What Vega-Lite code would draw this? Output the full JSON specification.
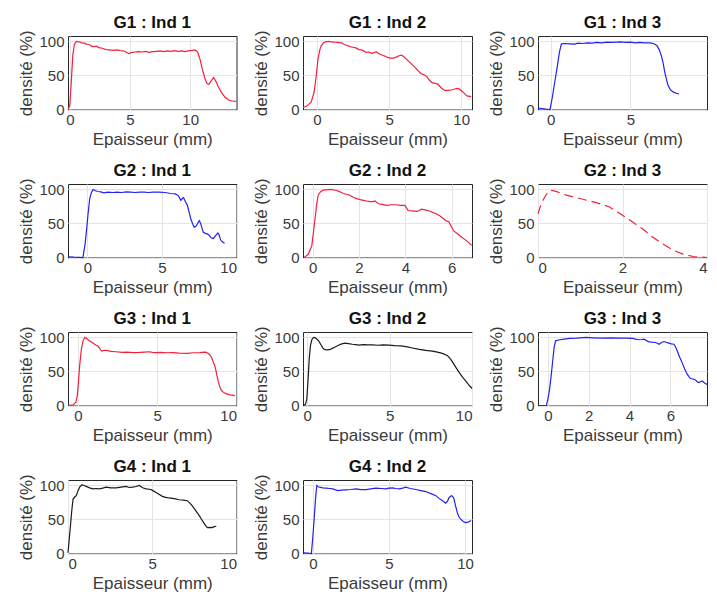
{
  "$schema": "https://vega.github.io/schema/vega-lite/v6.json",
  "background": "white",
  "padding": {"left": 17, "top": 13, "right": 5, "bottom": 5},
  "columns": 3,
  "spacing": {"row": 74, "column": 66},
  "bounds": "flush",
  "config": {
    "font": "Liberation Sans",
    "view": {"stroke": "#262626", "strokeWidth": 1},
    "axis": {
      "labelFont": "Liberation Sans",
      "labelFontSize": 15,
      "labelColor": "#3a3a3a",
      "titleFont": "Liberation Sans",
      "titleFontSize": 17,
      "titleFontWeight": "normal",
      "titleColor": "#3a3a3a",
      "grid": true,
      "gridColor": "#e4e4e4",
      "domain": false,
      "ticks": false,
      "labelPadding": 4,
      "titlePadding": 3
    },
    "axisX": {"labelPadding": 3, "titlePadding": 4},
    "title": {"font": "Liberation Sans", "fontSize": 17, "fontWeight": "bold", "color": "#111111", "offset": -2},
    "line": {"strokeWidth": 1.2, "clip": true}
  },
  "datasets": {
    "g1i1": [
      {"ep": -0.15, "dens": 0}, {"ep": 0.0, "dens": 6}, {"ep": 0.12, "dens": 40}, {"ep": 0.25, "dens": 80}, {"ep": 0.38, "dens": 96},
      {"ep": 0.55, "dens": 100}, {"ep": 0.75, "dens": 99.5}, {"ep": 1.0, "dens": 98}, {"ep": 1.2, "dens": 97.5}, {"ep": 1.4, "dens": 96},
      {"ep": 1.6, "dens": 95.5}, {"ep": 1.8, "dens": 93}, {"ep": 2.0, "dens": 92.5}, {"ep": 2.2, "dens": 93}, {"ep": 2.4, "dens": 91},
      {"ep": 2.7, "dens": 90}, {"ep": 3.0, "dens": 88}, {"ep": 3.3, "dens": 87.5}, {"ep": 3.6, "dens": 87}, {"ep": 3.9, "dens": 87.5},
      {"ep": 4.2, "dens": 86.5}, {"ep": 4.5, "dens": 86}, {"ep": 4.7, "dens": 84}, {"ep": 4.9, "dens": 82}, {"ep": 5.1, "dens": 83.5},
      {"ep": 5.4, "dens": 84.5}, {"ep": 5.7, "dens": 85}, {"ep": 6.0, "dens": 84.5}, {"ep": 6.3, "dens": 85.5}, {"ep": 6.6, "dens": 84},
      {"ep": 6.9, "dens": 85}, {"ep": 7.2, "dens": 85.5}, {"ep": 7.5, "dens": 86}, {"ep": 7.8, "dens": 85}, {"ep": 8.1, "dens": 86},
      {"ep": 8.4, "dens": 85.5}, {"ep": 8.7, "dens": 86.5}, {"ep": 9.0, "dens": 85.5}, {"ep": 9.3, "dens": 86}, {"ep": 9.6, "dens": 85},
      {"ep": 9.9, "dens": 86.5}, {"ep": 10.2, "dens": 87}, {"ep": 10.4, "dens": 87.5}, {"ep": 10.6, "dens": 85}, {"ep": 10.8, "dens": 75},
      {"ep": 11.0, "dens": 60}, {"ep": 11.2, "dens": 47}, {"ep": 11.4, "dens": 38}, {"ep": 11.55, "dens": 37}, {"ep": 11.75, "dens": 42},
      {"ep": 11.95, "dens": 47}, {"ep": 12.15, "dens": 41}, {"ep": 12.35, "dens": 33}, {"ep": 12.6, "dens": 25}, {"ep": 12.9, "dens": 18},
      {"ep": 13.2, "dens": 14}, {"ep": 13.5, "dens": 12.5}, {"ep": 13.8, "dens": 12}
    ],
    "g1i2": [
      {"ep": -0.97, "dens": 3}, {"ep": -0.7, "dens": 5}, {"ep": -0.4, "dens": 11}, {"ep": -0.2, "dens": 25}, {"ep": -0.05, "dens": 50},
      {"ep": 0.07, "dens": 74}, {"ep": 0.2, "dens": 88}, {"ep": 0.3, "dens": 94}, {"ep": 0.45, "dens": 98}, {"ep": 0.6, "dens": 99.5},
      {"ep": 0.8, "dens": 100}, {"ep": 1.0, "dens": 99.5}, {"ep": 1.2, "dens": 99}, {"ep": 1.45, "dens": 98.5}, {"ep": 1.7, "dens": 98},
      {"ep": 1.9, "dens": 95.5}, {"ep": 2.1, "dens": 94}, {"ep": 2.3, "dens": 92.5}, {"ep": 2.5, "dens": 91.5}, {"ep": 2.7, "dens": 90.5},
      {"ep": 2.9, "dens": 88}, {"ep": 3.1, "dens": 87.5}, {"ep": 3.4, "dens": 84}, {"ep": 3.6, "dens": 84.5}, {"ep": 3.8, "dens": 82.5},
      {"ep": 3.95, "dens": 83.5}, {"ep": 4.1, "dens": 85}, {"ep": 4.3, "dens": 82}, {"ep": 4.5, "dens": 80}, {"ep": 4.7, "dens": 78.5},
      {"ep": 4.9, "dens": 76.5}, {"ep": 5.1, "dens": 75.5}, {"ep": 5.3, "dens": 75.5}, {"ep": 5.5, "dens": 77}, {"ep": 5.7, "dens": 79},
      {"ep": 5.86, "dens": 80}, {"ep": 6.0, "dens": 78}, {"ep": 6.2, "dens": 74}, {"ep": 6.4, "dens": 70}, {"ep": 6.6, "dens": 66},
      {"ep": 6.8, "dens": 62}, {"ep": 7.0, "dens": 57}, {"ep": 7.2, "dens": 53}, {"ep": 7.4, "dens": 51}, {"ep": 7.6, "dens": 49},
      {"ep": 7.8, "dens": 43}, {"ep": 8.0, "dens": 39}, {"ep": 8.2, "dens": 38.5}, {"ep": 8.4, "dens": 37}, {"ep": 8.6, "dens": 32},
      {"ep": 8.85, "dens": 28}, {"ep": 9.1, "dens": 28}, {"ep": 9.4, "dens": 29}, {"ep": 9.6, "dens": 30.5}, {"ep": 9.8, "dens": 31},
      {"ep": 10.0, "dens": 28}, {"ep": 10.2, "dens": 24}, {"ep": 10.4, "dens": 20}, {"ep": 10.7, "dens": 19}
    ],
    "g1i3": [
      {"ep": -0.8, "dens": 2}, {"ep": -0.55, "dens": 1.5}, {"ep": -0.3, "dens": 0.5}, {"ep": -0.05, "dens": 0}, {"ep": 0.1, "dens": 18},
      {"ep": 0.25, "dens": 40}, {"ep": 0.4, "dens": 62}, {"ep": 0.55, "dens": 85}, {"ep": 0.67, "dens": 96.5}, {"ep": 0.9, "dens": 97},
      {"ep": 1.2, "dens": 96.5}, {"ep": 1.5, "dens": 96}, {"ep": 1.7, "dens": 97.5}, {"ep": 2.0, "dens": 97}, {"ep": 2.3, "dens": 98},
      {"ep": 2.6, "dens": 97.5}, {"ep": 2.9, "dens": 98.5}, {"ep": 3.2, "dens": 98}, {"ep": 3.5, "dens": 99}, {"ep": 3.8, "dens": 98.5},
      {"ep": 4.1, "dens": 99}, {"ep": 4.4, "dens": 99.5}, {"ep": 4.7, "dens": 98.5}, {"ep": 5.0, "dens": 99}, {"ep": 5.3, "dens": 98},
      {"ep": 5.6, "dens": 98.5}, {"ep": 5.9, "dens": 98}, {"ep": 6.2, "dens": 98}, {"ep": 6.45, "dens": 97}, {"ep": 6.65, "dens": 94},
      {"ep": 6.8, "dens": 88}, {"ep": 6.95, "dens": 78}, {"ep": 7.05, "dens": 68}, {"ep": 7.15, "dens": 55}, {"ep": 7.25, "dens": 45},
      {"ep": 7.35, "dens": 36}, {"ep": 7.5, "dens": 29}, {"ep": 7.7, "dens": 25.5}, {"ep": 7.9, "dens": 23.5}, {"ep": 8.05, "dens": 23}
    ],
    "g2i1": [
      {"ep": -1.27, "dens": 1}, {"ep": -0.9, "dens": 0.5}, {"ep": -0.55, "dens": 0.3}, {"ep": -0.3, "dens": 0}, {"ep": -0.15, "dens": 20},
      {"ep": -0.05, "dens": 42}, {"ep": 0.05, "dens": 65}, {"ep": 0.16, "dens": 87}, {"ep": 0.28, "dens": 96}, {"ep": 0.38, "dens": 100},
      {"ep": 0.55, "dens": 98}, {"ep": 0.71, "dens": 97}, {"ep": 0.9, "dens": 96.5}, {"ep": 1.1, "dens": 95}, {"ep": 1.4, "dens": 96},
      {"ep": 1.7, "dens": 95.5}, {"ep": 2.0, "dens": 96}, {"ep": 2.3, "dens": 95.5}, {"ep": 2.6, "dens": 96.5}, {"ep": 2.9, "dens": 96},
      {"ep": 3.2, "dens": 95.5}, {"ep": 3.5, "dens": 96}, {"ep": 3.8, "dens": 96}, {"ep": 4.1, "dens": 95.5}, {"ep": 4.4, "dens": 96},
      {"ep": 4.8, "dens": 96}, {"ep": 5.2, "dens": 95.5}, {"ep": 5.6, "dens": 94}, {"ep": 5.9, "dens": 93.5}, {"ep": 6.1, "dens": 91},
      {"ep": 6.27, "dens": 84}, {"ep": 6.38, "dens": 87}, {"ep": 6.45, "dens": 88}, {"ep": 6.55, "dens": 83}, {"ep": 6.7, "dens": 77},
      {"ep": 6.82, "dens": 67}, {"ep": 6.93, "dens": 57}, {"ep": 7.05, "dens": 50}, {"ep": 7.16, "dens": 44.6}, {"ep": 7.28, "dens": 46},
      {"ep": 7.38, "dens": 49.5}, {"ep": 7.5, "dens": 54}, {"ep": 7.6, "dens": 50}, {"ep": 7.7, "dens": 42}, {"ep": 7.78, "dens": 37},
      {"ep": 7.9, "dens": 35.5}, {"ep": 8.0, "dens": 35}, {"ep": 8.15, "dens": 33}, {"ep": 8.3, "dens": 29}, {"ep": 8.45, "dens": 28},
      {"ep": 8.6, "dens": 32}, {"ep": 8.75, "dens": 36}, {"ep": 8.82, "dens": 34}, {"ep": 8.93, "dens": 26}, {"ep": 9.05, "dens": 23},
      {"ep": 9.2, "dens": 21}
    ],
    "g2i2": [
      {"ep": -0.37, "dens": 0}, {"ep": -0.19, "dens": 5}, {"ep": -0.04, "dens": 17}, {"ep": 0.04, "dens": 40}, {"ep": 0.1, "dens": 57},
      {"ep": 0.17, "dens": 78}, {"ep": 0.24, "dens": 92}, {"ep": 0.35, "dens": 97}, {"ep": 0.46, "dens": 99}, {"ep": 0.6, "dens": 99.5},
      {"ep": 0.75, "dens": 100}, {"ep": 0.9, "dens": 99.5}, {"ep": 1.03, "dens": 98.5}, {"ep": 1.18, "dens": 96.5}, {"ep": 1.32, "dens": 94},
      {"ep": 1.46, "dens": 93}, {"ep": 1.6, "dens": 91.5}, {"ep": 1.75, "dens": 88.5}, {"ep": 1.9, "dens": 86.6}, {"ep": 2.05, "dens": 85},
      {"ep": 2.18, "dens": 84}, {"ep": 2.32, "dens": 83}, {"ep": 2.47, "dens": 82}, {"ep": 2.6, "dens": 82}, {"ep": 2.69, "dens": 83},
      {"ep": 2.77, "dens": 81}, {"ep": 2.84, "dens": 79}, {"ep": 3.0, "dens": 78}, {"ep": 3.2, "dens": 76.6}, {"ep": 3.4, "dens": 77.5},
      {"ep": 3.6, "dens": 77.5}, {"ep": 3.8, "dens": 76.5}, {"ep": 3.98, "dens": 76.6}, {"ep": 4.05, "dens": 73}, {"ep": 4.12, "dens": 69},
      {"ep": 4.3, "dens": 68.5}, {"ep": 4.5, "dens": 67.8}, {"ep": 4.6, "dens": 69}, {"ep": 4.7, "dens": 71}, {"ep": 4.9, "dens": 69.5},
      {"ep": 5.07, "dens": 68}, {"ep": 5.2, "dens": 66}, {"ep": 5.36, "dens": 64}, {"ep": 5.5, "dens": 61}, {"ep": 5.65, "dens": 57},
      {"ep": 5.75, "dens": 54}, {"ep": 5.87, "dens": 52.8}, {"ep": 5.98, "dens": 46}, {"ep": 6.09, "dens": 39}, {"ep": 6.25, "dens": 35},
      {"ep": 6.4, "dens": 31}, {"ep": 6.55, "dens": 27}, {"ep": 6.7, "dens": 23}, {"ep": 6.86, "dens": 18}
    ],
    "g2i3": [
      {"ep": 0.0, "dens": 64}, {"ep": 0.05, "dens": 74}, {"ep": 0.1, "dens": 82}, {"ep": 0.16, "dens": 89}, {"ep": 0.21, "dens": 94},
      {"ep": 0.29, "dens": 99}, {"ep": 0.41, "dens": 97.5}, {"ep": 0.65, "dens": 92}, {"ep": 0.97, "dens": 87}, {"ep": 1.29, "dens": 82},
      {"ep": 1.52, "dens": 78}, {"ep": 1.68, "dens": 74.5}, {"ep": 1.88, "dens": 67}, {"ep": 2.0, "dens": 62}, {"ep": 2.24, "dens": 52},
      {"ep": 2.48, "dens": 42}, {"ep": 2.71, "dens": 30}, {"ep": 2.95, "dens": 20}, {"ep": 3.19, "dens": 11}, {"ep": 3.43, "dens": 5},
      {"ep": 3.67, "dens": 1.5}, {"ep": 3.9, "dens": 0.5}, {"ep": 4.0, "dens": 0}
    ],
    "g3i1": [
      {"ep": -0.6, "dens": 0}, {"ep": -0.3, "dens": 1}, {"ep": -0.12, "dens": 5}, {"ep": -0.03, "dens": 15}, {"ep": 0.02, "dens": 30},
      {"ep": 0.12, "dens": 60}, {"ep": 0.23, "dens": 84}, {"ep": 0.33, "dens": 95}, {"ep": 0.44, "dens": 100}, {"ep": 0.55, "dens": 98.5},
      {"ep": 0.65, "dens": 96.6}, {"ep": 0.8, "dens": 94}, {"ep": 0.96, "dens": 91.6}, {"ep": 1.13, "dens": 89}, {"ep": 1.3, "dens": 86.6},
      {"ep": 1.4, "dens": 83}, {"ep": 1.5, "dens": 80}, {"ep": 1.65, "dens": 81}, {"ep": 1.8, "dens": 81}, {"ep": 2.1, "dens": 79.5},
      {"ep": 2.4, "dens": 79}, {"ep": 2.8, "dens": 78}, {"ep": 3.1, "dens": 78.5}, {"ep": 3.5, "dens": 77.6}, {"ep": 3.9, "dens": 78},
      {"ep": 4.2, "dens": 78.5}, {"ep": 4.5, "dens": 79}, {"ep": 4.7, "dens": 78}, {"ep": 4.9, "dens": 77.6}, {"ep": 5.2, "dens": 78},
      {"ep": 5.6, "dens": 77.5}, {"ep": 6.0, "dens": 77.6}, {"ep": 6.4, "dens": 77}, {"ep": 6.9, "dens": 76.6}, {"ep": 7.3, "dens": 77.5},
      {"ep": 7.7, "dens": 77.6}, {"ep": 8.0, "dens": 78.5}, {"ep": 8.1, "dens": 78}, {"ep": 8.25, "dens": 76}, {"ep": 8.4, "dens": 71.8},
      {"ep": 8.52, "dens": 65}, {"ep": 8.65, "dens": 57}, {"ep": 8.75, "dens": 46}, {"ep": 8.85, "dens": 35}, {"ep": 8.95, "dens": 27},
      {"ep": 9.06, "dens": 22}, {"ep": 9.2, "dens": 19}, {"ep": 9.37, "dens": 17}, {"ep": 9.6, "dens": 15.5}, {"ep": 9.9, "dens": 14.6}
    ],
    "g3i2": [
      {"ep": -0.23, "dens": 0}, {"ep": -0.1, "dens": 2}, {"ep": -0.02, "dens": 9}, {"ep": 0.05, "dens": 35}, {"ep": 0.13, "dens": 69},
      {"ep": 0.2, "dens": 88}, {"ep": 0.29, "dens": 97}, {"ep": 0.37, "dens": 99.5}, {"ep": 0.45, "dens": 100}, {"ep": 0.55, "dens": 98.5},
      {"ep": 0.7, "dens": 95}, {"ep": 0.82, "dens": 90}, {"ep": 0.94, "dens": 85}, {"ep": 1.05, "dens": 82.5}, {"ep": 1.2, "dens": 81.6},
      {"ep": 1.35, "dens": 82}, {"ep": 1.5, "dens": 83.6}, {"ep": 1.7, "dens": 86}, {"ep": 1.9, "dens": 88.6}, {"ep": 2.1, "dens": 90.5},
      {"ep": 2.3, "dens": 91.6}, {"ep": 2.5, "dens": 91}, {"ep": 2.75, "dens": 90}, {"ep": 2.95, "dens": 89.5}, {"ep": 3.15, "dens": 88.6},
      {"ep": 3.4, "dens": 89.5}, {"ep": 3.7, "dens": 89}, {"ep": 3.97, "dens": 89}, {"ep": 4.3, "dens": 88.5}, {"ep": 4.6, "dens": 89},
      {"ep": 4.99, "dens": 88.6}, {"ep": 5.3, "dens": 88}, {"ep": 5.7, "dens": 87.5}, {"ep": 6.0, "dens": 86.6}, {"ep": 6.4, "dens": 84.5},
      {"ep": 6.8, "dens": 82.6}, {"ep": 7.2, "dens": 81}, {"ep": 7.6, "dens": 80}, {"ep": 7.9, "dens": 78.5}, {"ep": 8.2, "dens": 76.6},
      {"ep": 8.5, "dens": 73.6}, {"ep": 8.7, "dens": 68}, {"ep": 8.85, "dens": 62.6}, {"ep": 9.05, "dens": 55}, {"ep": 9.25, "dens": 47.7},
      {"ep": 9.45, "dens": 41}, {"ep": 9.65, "dens": 35}, {"ep": 9.85, "dens": 29}, {"ep": 10.0, "dens": 25}
    ],
    "g3i3": [
      {"ep": -0.49, "dens": 0}, {"ep": -0.25, "dens": 0}, {"ep": -0.08, "dens": 0}, {"ep": 0.0, "dens": 10}, {"ep": 0.08, "dens": 24},
      {"ep": 0.16, "dens": 45}, {"ep": 0.24, "dens": 68}, {"ep": 0.3, "dens": 85}, {"ep": 0.37, "dens": 95}, {"ep": 0.57, "dens": 96.6},
      {"ep": 0.8, "dens": 97.5}, {"ep": 1.06, "dens": 98.6}, {"ep": 1.4, "dens": 99}, {"ep": 1.87, "dens": 100}, {"ep": 2.2, "dens": 99.5},
      {"ep": 2.68, "dens": 99}, {"ep": 3.1, "dens": 99.5}, {"ep": 3.5, "dens": 99}, {"ep": 3.85, "dens": 99}, {"ep": 4.15, "dens": 98.6},
      {"ep": 4.3, "dens": 97.5}, {"ep": 4.47, "dens": 96.6}, {"ep": 4.6, "dens": 97}, {"ep": 4.72, "dens": 97.6}, {"ep": 4.85, "dens": 95},
      {"ep": 4.96, "dens": 93.6}, {"ep": 5.1, "dens": 93}, {"ep": 5.28, "dens": 92.6}, {"ep": 5.36, "dens": 91.5}, {"ep": 5.45, "dens": 90},
      {"ep": 5.57, "dens": 92.5}, {"ep": 5.69, "dens": 94}, {"ep": 5.8, "dens": 93}, {"ep": 5.93, "dens": 91.6}, {"ep": 6.05, "dens": 90.5},
      {"ep": 6.18, "dens": 90}, {"ep": 6.26, "dens": 86}, {"ep": 6.34, "dens": 80}, {"ep": 6.46, "dens": 71}, {"ep": 6.58, "dens": 63},
      {"ep": 6.7, "dens": 54}, {"ep": 6.83, "dens": 46}, {"ep": 6.92, "dens": 42}, {"ep": 6.99, "dens": 39.6}, {"ep": 7.1, "dens": 39},
      {"ep": 7.24, "dens": 37.6}, {"ep": 7.32, "dens": 35}, {"ep": 7.4, "dens": 33.7}, {"ep": 7.48, "dens": 35}, {"ep": 7.56, "dens": 36},
      {"ep": 7.68, "dens": 33}, {"ep": 7.8, "dens": 31}
    ],
    "g4i1": [
      {"ep": 0.0, "dens": 1}, {"ep": 0.07, "dens": 20}, {"ep": 0.14, "dens": 39}, {"ep": 0.22, "dens": 62}, {"ep": 0.3, "dens": 80},
      {"ep": 0.4, "dens": 83}, {"ep": 0.49, "dens": 85}, {"ep": 0.59, "dens": 92}, {"ep": 0.69, "dens": 97.5}, {"ep": 0.83, "dens": 101},
      {"ep": 0.95, "dens": 100}, {"ep": 1.08, "dens": 98.6}, {"ep": 1.28, "dens": 96.5}, {"ep": 1.48, "dens": 95}, {"ep": 1.67, "dens": 95.5},
      {"ep": 1.87, "dens": 95}, {"ep": 2.06, "dens": 96}, {"ep": 2.26, "dens": 97.5}, {"ep": 2.55, "dens": 96.5}, {"ep": 2.85, "dens": 96.5},
      {"ep": 3.15, "dens": 97.5}, {"ep": 3.44, "dens": 98.5}, {"ep": 3.64, "dens": 97}, {"ep": 3.84, "dens": 97.5}, {"ep": 4.05, "dens": 98.5},
      {"ep": 4.23, "dens": 100}, {"ep": 4.43, "dens": 96.5}, {"ep": 4.63, "dens": 95}, {"ep": 4.92, "dens": 94}, {"ep": 5.06, "dens": 92},
      {"ep": 5.2, "dens": 90}, {"ep": 5.4, "dens": 87}, {"ep": 5.6, "dens": 84}, {"ep": 5.8, "dens": 82.5}, {"ep": 6.0, "dens": 81.6},
      {"ep": 6.3, "dens": 80.5}, {"ep": 6.6, "dens": 79}, {"ep": 6.85, "dens": 78.5}, {"ep": 7.08, "dens": 77.6}, {"ep": 7.23, "dens": 74},
      {"ep": 7.38, "dens": 70}, {"ep": 7.58, "dens": 63}, {"ep": 7.78, "dens": 56}, {"ep": 7.93, "dens": 50}, {"ep": 8.07, "dens": 44.6},
      {"ep": 8.17, "dens": 41}, {"ep": 8.27, "dens": 38}, {"ep": 8.42, "dens": 38.5}, {"ep": 8.56, "dens": 38}, {"ep": 8.68, "dens": 39.5},
      {"ep": 8.8, "dens": 40}
    ],
    "g4i2": [
      {"ep": -0.61, "dens": 1}, {"ep": -0.35, "dens": 0.5}, {"ep": -0.1, "dens": 0}, {"ep": 0.0, "dens": 25}, {"ep": 0.11, "dens": 59.5},
      {"ep": 0.19, "dens": 85}, {"ep": 0.26, "dens": 100}, {"ep": 0.35, "dens": 98}, {"ep": 0.44, "dens": 97.5}, {"ep": 0.65, "dens": 96.5},
      {"ep": 0.87, "dens": 96}, {"ep": 1.1, "dens": 95.5}, {"ep": 1.31, "dens": 95}, {"ep": 1.48, "dens": 93.5}, {"ep": 1.64, "dens": 92.4},
      {"ep": 1.9, "dens": 93}, {"ep": 2.18, "dens": 93.4}, {"ep": 2.5, "dens": 94}, {"ep": 2.84, "dens": 95}, {"ep": 3.15, "dens": 94},
      {"ep": 3.49, "dens": 94}, {"ep": 3.8, "dens": 95}, {"ep": 4.15, "dens": 96}, {"ep": 4.5, "dens": 95.5}, {"ep": 4.8, "dens": 95},
      {"ep": 5.0, "dens": 96}, {"ep": 5.24, "dens": 96.5}, {"ep": 5.45, "dens": 95.5}, {"ep": 5.68, "dens": 95}, {"ep": 5.9, "dens": 96},
      {"ep": 6.11, "dens": 97.5}, {"ep": 6.4, "dens": 95.5}, {"ep": 6.77, "dens": 94}, {"ep": 7.1, "dens": 92.5}, {"ep": 7.42, "dens": 91},
      {"ep": 7.75, "dens": 88}, {"ep": 8.08, "dens": 85}, {"ep": 8.3, "dens": 81}, {"ep": 8.52, "dens": 77.5}, {"ep": 8.73, "dens": 74},
      {"ep": 8.85, "dens": 77}, {"ep": 8.95, "dens": 82}, {"ep": 9.05, "dens": 84}, {"ep": 9.13, "dens": 85}, {"ep": 9.2, "dens": 83.5},
      {"ep": 9.28, "dens": 80}, {"ep": 9.38, "dens": 70}, {"ep": 9.5, "dens": 59.5}, {"ep": 9.6, "dens": 54}, {"ep": 9.72, "dens": 50.5},
      {"ep": 9.88, "dens": 47}, {"ep": 10.04, "dens": 45.5}, {"ep": 10.2, "dens": 46}, {"ep": 10.4, "dens": 48.5}
    ]
  },
  "concat": [
    {
      "title": "G1 : Ind 1", "width": 168.5, "height": 73.5, "data": {"name": "g1i1"},
      "mark": {"type": "line", "color": "#f2203c"},
      "encoding": {
        "x": {"field": "ep", "type": "quantitative", "scale": {"domain": [-0.15, 13.85], "nice": false, "zero": false}, "axis": {"values": [0, 5, 10], "title": "Epaisseur (mm)"}},
        "y": {"field": "dens", "type": "quantitative", "scale": {"domain": [0, 108], "nice": false}, "axis": {"values": [0, 50, 100], "title": "densité (%)"}}
      }
    },
    {
      "title": "G1 : Ind 2", "width": 169, "height": 73.5, "data": {"name": "g1i2"},
      "mark": {"type": "line", "color": "#f2203c"},
      "encoding": {
        "x": {"field": "ep", "type": "quantitative", "scale": {"domain": [-0.97, 10.75], "nice": false, "zero": false}, "axis": {"values": [0, 5, 10], "title": "Epaisseur (mm)"}},
        "y": {"field": "dens", "type": "quantitative", "scale": {"domain": [0, 108], "nice": false}, "axis": {"values": [0, 50, 100], "title": "densité (%)"}}
      }
    },
    {
      "title": "G1 : Ind 3", "width": 169, "height": 73.5, "data": {"name": "g1i3"},
      "mark": {"type": "line", "color": "#2222f0"},
      "encoding": {
        "x": {"field": "ep", "type": "quantitative", "scale": {"domain": [-0.8, 9.8], "nice": false, "zero": false}, "axis": {"values": [0, 5, 10], "title": "Epaisseur (mm)"}},
        "y": {"field": "dens", "type": "quantitative", "scale": {"domain": [0, 108], "nice": false}, "axis": {"values": [0, 50, 100], "title": "densité (%)"}}
      }
    },
    {
      "title": "G2 : Ind 1", "width": 168.5, "height": 73.5, "data": {"name": "g2i1"},
      "mark": {"type": "line", "color": "#2222f0"},
      "encoding": {
        "x": {"field": "ep", "type": "quantitative", "scale": {"domain": [-1.3, 10], "nice": false, "zero": false}, "axis": {"values": [0, 5, 10], "title": "Epaisseur (mm)"}},
        "y": {"field": "dens", "type": "quantitative", "scale": {"domain": [0, 108], "nice": false}, "axis": {"values": [0, 50, 100], "title": "densité (%)"}}
      }
    },
    {
      "title": "G2 : Ind 2", "width": 169, "height": 73.5, "data": {"name": "g2i2"},
      "mark": {"type": "line", "color": "#f2203c"},
      "encoding": {
        "x": {"field": "ep", "type": "quantitative", "scale": {"domain": [-0.42, 6.88], "nice": false, "zero": false}, "axis": {"values": [0, 2, 4, 6], "title": "Epaisseur (mm)"}},
        "y": {"field": "dens", "type": "quantitative", "scale": {"domain": [0, 108], "nice": false}, "axis": {"values": [0, 50, 100], "title": "densité (%)"}}
      }
    },
    {
      "title": "G2 : Ind 3", "width": 169, "height": 73.5, "data": {"name": "g2i3"},
      "mark": {"type": "line", "color": "#f2203c", "strokeDash": [9, 5]},
      "encoding": {
        "x": {"field": "ep", "type": "quantitative", "scale": {"domain": [0, 4], "nice": false, "zero": false}, "axis": {"values": [0, 2, 4], "title": "Epaisseur (mm)"}},
        "y": {"field": "dens", "type": "quantitative", "scale": {"domain": [0, 108], "nice": false}, "axis": {"values": [0, 50, 100], "title": "densité (%)"}}
      }
    },
    {
      "title": "G3 : Ind 1", "width": 168.5, "height": 73.5, "data": {"name": "g3i1"},
      "mark": {"type": "line", "color": "#f2203c"},
      "encoding": {
        "x": {"field": "ep", "type": "quantitative", "scale": {"domain": [-0.62, 10], "nice": false, "zero": false}, "axis": {"values": [0, 5, 10], "title": "Epaisseur (mm)"}},
        "y": {"field": "dens", "type": "quantitative", "scale": {"domain": [0, 108], "nice": false}, "axis": {"values": [0, 50, 100], "title": "densité (%)"}}
      }
    },
    {
      "title": "G3 : Ind 2", "width": 169, "height": 73.5, "data": {"name": "g3i2"},
      "mark": {"type": "line", "color": "#1a1a1a"},
      "encoding": {
        "x": {"field": "ep", "type": "quantitative", "scale": {"domain": [-0.25, 10], "nice": false, "zero": false}, "axis": {"values": [0, 5, 10], "title": "Epaisseur (mm)"}},
        "y": {"field": "dens", "type": "quantitative", "scale": {"domain": [0, 108], "nice": false}, "axis": {"values": [0, 50, 100], "title": "densité (%)"}}
      }
    },
    {
      "title": "G3 : Ind 3", "width": 169, "height": 73.5, "data": {"name": "g3i3"},
      "mark": {"type": "line", "color": "#2222f0"},
      "encoding": {
        "x": {"field": "ep", "type": "quantitative", "scale": {"domain": [-0.49, 7.8], "nice": false, "zero": false}, "axis": {"values": [0, 2, 4, 6], "title": "Epaisseur (mm)"}},
        "y": {"field": "dens", "type": "quantitative", "scale": {"domain": [0, 108], "nice": false}, "axis": {"values": [0, 50, 100], "title": "densité (%)"}}
      }
    },
    {
      "title": "G4 : Ind 1", "width": 168.5, "height": 73.5, "data": {"name": "g4i1"},
      "mark": {"type": "line", "color": "#1a1a1a"},
      "encoding": {
        "x": {"field": "ep", "type": "quantitative", "scale": {"domain": [0, 10], "nice": false, "zero": false}, "axis": {"values": [0, 5, 10], "title": "Epaisseur (mm)"}},
        "y": {"field": "dens", "type": "quantitative", "scale": {"domain": [0, 108], "nice": false}, "axis": {"values": [0, 50, 100], "title": "densité (%)"}}
      }
    },
    {
      "title": "G4 : Ind 2", "width": 169, "height": 73.5, "data": {"name": "g4i2"},
      "mark": {"type": "line", "color": "#2222f0"},
      "encoding": {
        "x": {"field": "ep", "type": "quantitative", "scale": {"domain": [-0.65, 10.46], "nice": false, "zero": false}, "axis": {"values": [0, 5, 10], "title": "Epaisseur (mm)"}},
        "y": {"field": "dens", "type": "quantitative", "scale": {"domain": [0, 108], "nice": false}, "axis": {"values": [0, 50, 100], "title": "densité (%)"}}
      }
    }
  ]
}
